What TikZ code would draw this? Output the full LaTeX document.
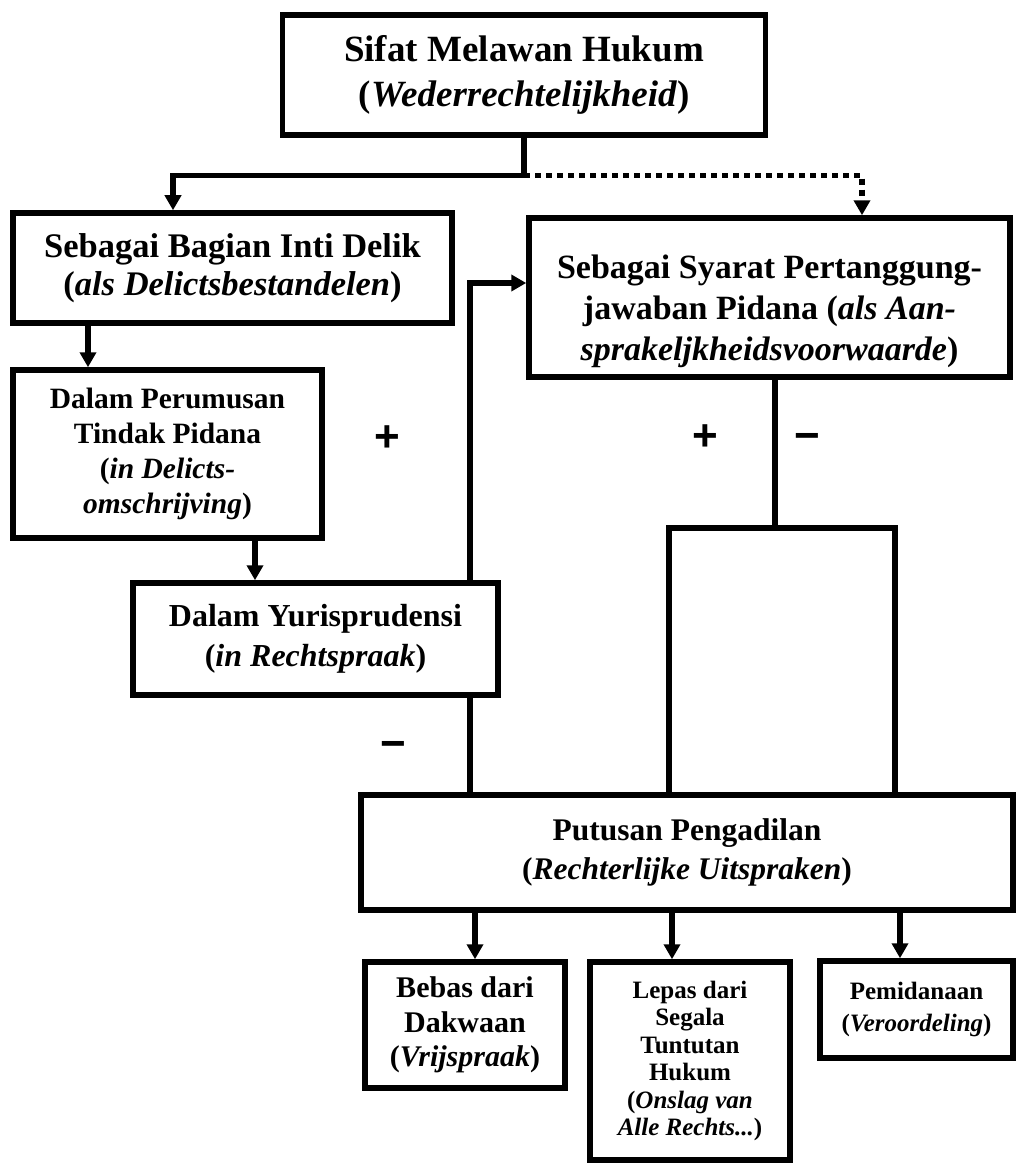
\documentclass[tikz,border=0pt]{standalone}
\usepackage{fontspec}
\setmainfont{Liberation Serif}
\newfontfamily\signfont{Liberation Sans}
\usetikzlibrary{arrows.meta,positioning}
\pgfdeclarelayer{background}
\pgfsetlayers{background,main}
\tikzset{
  basic/.style  = {draw, line width=5.5pt, fill=white, align=center, inner sep=2pt},
  root/.style   = {basic, font=\fontsize{37}{45}\selectfont\bfseries},
  branch/.style = {basic, font=\fontsize{34.5}{37.5}\selectfont\bfseries},
  leaf/.style   = {basic, font=\fontsize{25}{27.5}\selectfont\bfseries},
  sign/.style   = {font=\signfont\fontsize{44}{44}\selectfont\bfseries, inner sep=0pt,
                   text height=0.71em, text depth=0pt},
  conn/.style   = {draw, line width=5.5pt},
  dots/.style   = {dash pattern=on 6pt off 5pt}
}

\begin{document}
\begin{tikzpicture}[x=1pt, y=-1pt, >={Triangle[length=15pt,width=16pt]}]
\useasboundingbox (0,0) rectangle (1017,1169);

% the notion itself
\node[root, minimum width=483pt, minimum height=120pt] (sifat) at (524,75)
  {Sifat Melawan Hukum\\(\textit{Wederrechtelijkheid})};

% the two branches
\node[branch, minimum width=439pt, minimum height=110pt] (delik) at (232.5,268)
  {Sebagai Bagian Inti Delik\\(\textit{als Delictsbestandelen})};
\node[branch, font=\fontsize{34}{41}\selectfont\bfseries,
      minimum width=481pt, minimum height=159pt] (syarat) at (769.5,297.5)
  {\rule{0pt}{52pt}Sebagai Syarat Pertanggung-\\jawaban Pidana (\textit{als Aan-}\\\textit{sprakeljkheidsvoorwaarde})};

% left branch, one step under the other
\node[basic, font=\fontsize{29.5}{35}\selectfont\bfseries,
      minimum width=309pt, minimum height=168pt] (perumusan) at (167.5,454)
  {Dalam Perumusan\\Tindak Pidana\\(\textit{in Delicts-}\\\textit{omschrijving})};
\node[basic, font=\fontsize{32}{40}\selectfont\bfseries,
      minimum width=365pt, minimum height=112pt] (yuris) at (315.5,639)
  {Dalam Yurisprudensi\\(\textit{in Rechtspraak})};

% court decision and its outcomes
\node[basic, font=\fontsize{31.5}{39}\selectfont\bfseries,
      minimum width=652pt, minimum height=115pt] (putusan) at (687,852.5)
  {Putusan Pengadilan\\(\textit{Rechterlijke Uitspraken})};
\node[basic, font=\fontsize{30}{34.5}\selectfont\bfseries,
      minimum width=200pt, minimum height=126pt] (bebas) at (465,1025)
  {Bebas dari\\Dakwaan\\(\textit{Vrijspraak})};
\node[leaf, minimum width=200pt, minimum height=198pt] (lepas) at (690,1061)
  {Lepas dari\\Segala\\Tuntutan\\Hukum\\(\textit{Onslag van}\\\textit{Alle Rechts...})};
\node[leaf, font=\fontsize{25}{32}\selectfont\bfseries,
      minimum width=193pt, minimum height=97pt] (pidana) at (916.5,1009.5)
  {Pemidanaan\\(\textit{Veroordeling})};

% signs next to the lines
\node[sign] (plusL)  at (387,448) {+};
\node[sign] (minusL) at (393,755) {−};
\node[sign] (plusR)  at (705,447) {+};
\node[sign] (minusR) at (807,447) {−};

\begin{pgfonlayer}{background}
% from the notion down to both branches
\coordinate (split) at ([yshift=-38pt]sifat.south);
\draw[conn] (sifat.south) -- (split);
\draw[conn, ->] (split) -| ([xshift=-59.5pt]delik.north);
\draw[conn, dots, ->] (split) -| ([xshift=92.5pt]syarat.north);

% left branch
\draw[conn, ->] ([xshift=-79.5pt]perumusan.north |- delik.south) -- ([xshift=-79.5pt]perumusan.north);
\draw[conn, ->] ([xshift=87.5pt]perumusan.south) -- ([xshift=87.5pt]perumusan.south |- yuris.north);

% court decision back up to the right branch
\draw[conn, ->] ([xshift=-217pt]putusan.north) |- ([yshift=14.5pt]syarat.west);

% right branch forks into the court decision
\coordinate (fork) at (775,528);
\draw[conn] (fork |- syarat.south) -- (fork);
\draw[conn] ([xshift=-18pt]putusan.north) |- (fork) -| ([xshift=208pt]putusan.north);

% outcomes of the decision
\foreach \target/\dx in {bebas/10pt, lepas/-18pt, pidana/-16.5pt}
  \draw[conn, ->] ([xshift=\dx]\target.north |- putusan.south) -- ([xshift=\dx]\target.north);
\end{pgfonlayer}
\end{tikzpicture}
\end{document}
